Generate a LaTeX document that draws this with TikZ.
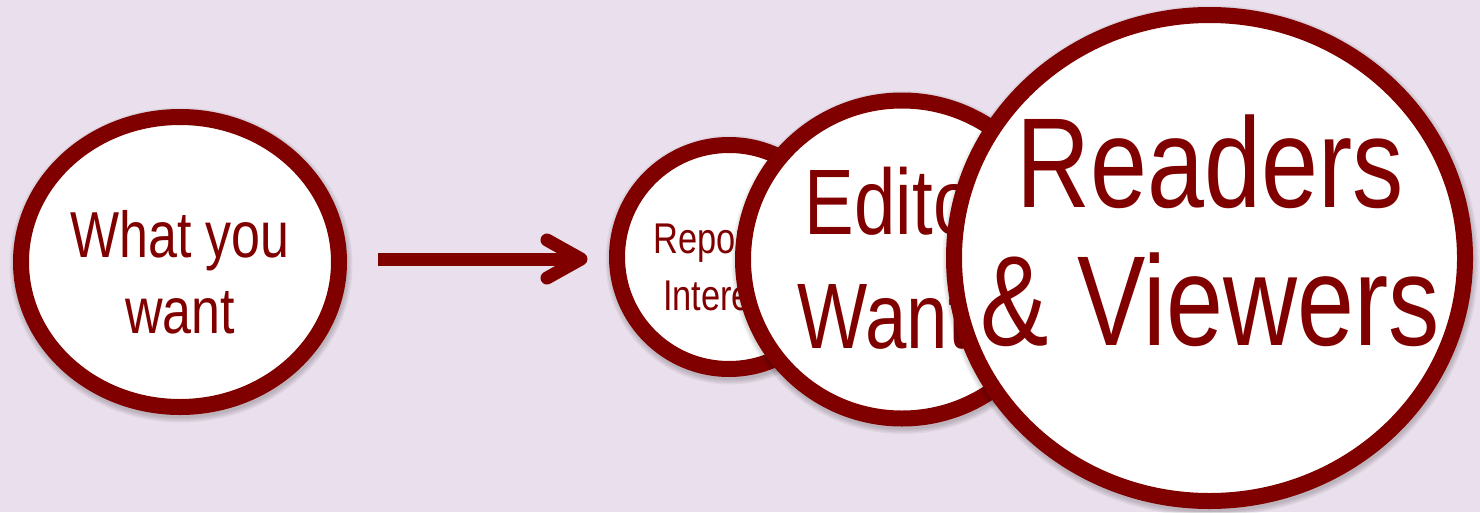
\documentclass[tikz,border=0pt]{standalone}
\usepackage{fontspec}
\newfontfamily\narrowfont[FakeStretch=0.8]{Liberation Sans}
\usetikzlibrary{shapes.geometric}
\definecolor{maroonc}{RGB}{128,0,0}
\definecolor{bgc}{RGB}{234,223,236}
\newcommand\bubbleshadow[4]{%
  \foreach \k in {0,1.5,3,4.5}{\fill[shade] (#1+1,#2+3) ellipse [x radius=#3+\k, y radius=#4+\k];}}
\begin{document}
\begin{tikzpicture}[x=1pt,y=-1pt,
  bubble/.style={ellipse, draw=maroonc, line width=16pt, fill=white, inner sep=0pt, outer sep=0pt},
  lbl/.style={text=maroonc, anchor=base, inner sep=0pt, font=\narrowfont},
  arrowline/.style={draw=maroonc, line width=13pt},
  shade/.style={fill=black, opacity=0.05}]
\fill[bgc] (0,0) rectangle (1480,512);
\useasboundingbox (0,0) rectangle (1480,512);

% circle 1
\bubbleshadow{180}{262}{167}{153}
\node[bubble, minimum width=318pt, minimum height=290pt] (c1) at (180,262) {};
\node[lbl] (t1a) at (180,257) {\fontsize{65}{78}\selectfont What you};
\node[lbl] (t1b) at (180,333) {\fontsize{65}{78}\selectfont want};

% arrow
\coordinate (arrS) at (378,259);
\coordinate (arrE) at (581,259);
\draw[arrowline, shorten >=3pt] (arrS) -- (arrE);
\draw[arrowline, line cap=round, line join=round] ([shift={(-34,-19)}]arrE) -- (arrE) -- ([shift={(-34,19)}]arrE);

% circle 2
\bubbleshadow{729}{257}{120}{120}
\node[bubble, minimum width=224pt, minimum height=224pt] (c2) at (729,257) {};
\node[lbl] (t2a) at (729,253) {\fontsize{43}{52}\selectfont Reporters};
\node[lbl] (t2b) at (729,310) {\fontsize{43}{52}\selectfont Interests};

% circle 3
\bubbleshadow{902}{259.5}{167}{167}
\node[bubble, minimum width=318pt, minimum height=318pt] (c3) at (902,259.5) {};
\node[lbl] (t3a) at (902,234) {\fontsize{93}{112}\selectfont Editor};
\node[lbl] (t3b) at (902,348) {\fontsize{93}{112}\selectfont Wants};

% circle 4
\bubbleshadow{1209.5}{258}{263.5}{251}
\node[bubble, minimum width=511pt, minimum height=486pt] (c4) at (1209.5,258) {};
\node[lbl] (t4a) at (1210,207) {\fontsize{128}{150}\selectfont Readers};
\node[lbl] (t4b) at (1210,345) {\fontsize{128}{150}\selectfont \& Viewers};
\end{tikzpicture}
\end{document}
